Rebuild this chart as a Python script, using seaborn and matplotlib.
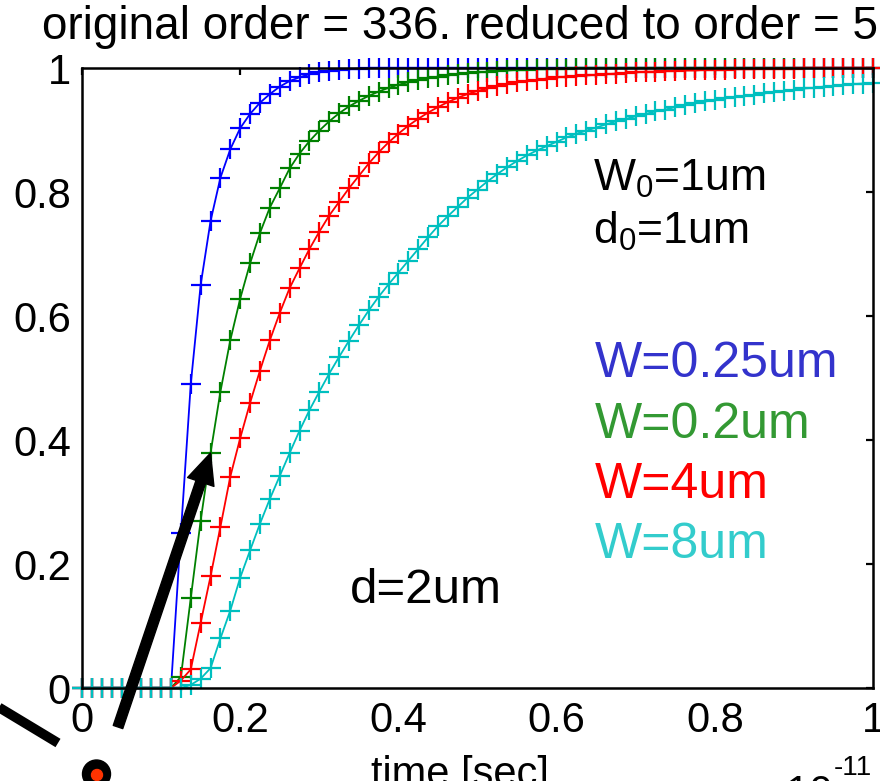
import numpy as np
import pandas as pd
import matplotlib
matplotlib.use("Agg")
import matplotlib.pyplot as plt
import seaborn as sns
from matplotlib.lines import Line2D
from matplotlib.patches import Circle

# time axis in units of 1e-11 s
t = [0, 0.0125, 0.025, 0.0375, 0.05, 0.0625, 0.075, 0.0875, 0.1, 0.1125,
     0.125, 0.1375, 0.15, 0.1625, 0.175, 0.1875, 0.2, 0.2125, 0.225, 0.2375,
     0.25, 0.2625, 0.275, 0.2875, 0.3, 0.3125, 0.325, 0.3375, 0.35, 0.3625,
     0.375, 0.3875, 0.4, 0.4125, 0.425, 0.4375, 0.45, 0.4625, 0.475, 0.4875,
     0.5, 0.5125, 0.525, 0.5375, 0.55, 0.5625, 0.575, 0.5875, 0.6, 0.6125,
     0.625, 0.6375, 0.65, 0.6625, 0.675, 0.6875, 0.7, 0.7125, 0.725, 0.7375,
     0.75, 0.7625, 0.775, 0.7875, 0.8, 0.8125, 0.825, 0.8375, 0.85, 0.8625,
     0.875, 0.8875, 0.9, 0.9125, 0.925, 0.9375, 0.95, 0.9625, 0.975, 0.9875,
     1.0]

zeros = [0.0] * 10

w025 = zeros + [0.25, 0.49, 0.65, 0.753, 0.823, 0.869, 0.903, 0.926, 0.944, 0.958,
                0.970, 0.979, 0.985, 0.990, 0.993, 0.995, 0.997, 0.998, 0.999] + [1.0] * 52

w02 = zeros + [0.018, 0.145, 0.27, 0.379, 0.478, 0.561, 0.628, 0.685, 0.734, 0.775,
               0.806, 0.838, 0.862, 0.882, 0.899, 0.914, 0.927, 0.938, 0.947, 0.955,
               0.962, 0.968, 0.973, 0.977, 0.981, 0.984, 0.986, 0.988, 0.990, 0.992,
               0.993, 0.994, 0.995, 0.996, 0.997, 0.997, 0.998, 0.998, 0.999, 0.999] + [1.0] * 31

w4 = zeros + [0.012, 0.03, 0.105, 0.18, 0.26, 0.341, 0.403, 0.46, 0.512, 0.561,
              0.605, 0.645, 0.677, 0.708, 0.736, 0.762, 0.784, 0.806, 0.826, 0.846,
              0.864, 0.88, 0.894, 0.907, 0.918, 0.928, 0.937, 0.945, 0.952, 0.958,
              0.963, 0.967, 0.971, 0.974, 0.977, 0.979, 0.981, 0.983, 0.985, 0.986,
              0.987, 0.988, 0.989, 0.990, 0.991, 0.992, 0.993, 0.994, 0.994, 0.995,
              0.995, 0.996, 0.996, 0.997, 0.997, 0.997, 0.998, 0.998, 0.998, 0.999,
              0.999, 0.999, 0.999] + [1.0] * 8

w8 = zeros + [0.0, 0.005, 0.015, 0.032, 0.08, 0.125, 0.178, 0.222, 0.265, 0.305,
              0.342, 0.379, 0.415, 0.448, 0.478, 0.507, 0.534, 0.56, 0.585, 0.609,
              0.631, 0.651, 0.67, 0.689, 0.708, 0.727, 0.745, 0.761, 0.776, 0.791,
              0.804, 0.817, 0.829, 0.84, 0.85, 0.859, 0.867, 0.874, 0.881, 0.888,
              0.894, 0.899, 0.904, 0.909, 0.914, 0.918, 0.922, 0.926, 0.93, 0.933,
              0.937, 0.94, 0.943, 0.946, 0.948, 0.951, 0.953, 0.955, 0.957, 0.959,
              0.961, 0.963, 0.965, 0.967, 0.968, 0.97, 0.971, 0.973, 0.974, 0.975,
              0.976]

series_labels = ["W=0.25um", "W=0.2um", "W=4um", "W=8um"]
line_colors = ["#0000ff", "#008000", "#ff0000", "#00bfbf"]
text_colors = ["#3333cc", "#339933", "#ff0000", "#33cccc"]

tick_vals = [0, 0.2, 0.4, 0.6, 0.8, 1]
tick_labels = ["0", "0.2", "0.4", "0.6", "0.8", "1"]

title = "original order = 336. reduced to order = 5"

sns.set_style("white")
plt.rcParams["font.family"] = ["Liberation Sans", "DejaVu Sans"]
plt.rcParams["mathtext.fontset"] = "custom"
plt.rcParams["mathtext.rm"] = "Liberation Sans"
plt.rcParams["mathtext.it"] = "Liberation Sans"
plt.rcParams["text.color"] = "black"
plt.rcParams["axes.labelcolor"] = "black"

fig = plt.figure(figsize=(8.8, 7.81), dpi=100)
ax = fig.add_axes([82 / 880, 1 - 688 / 781, (873 - 82) / 880, (688 - 68) / 781])

df = pd.DataFrame({"t": t, "W=0.25um": w025, "W=0.2um": w02, "W=4um": w4, "W=8um": w8})

for name, c in zip(series_labels, line_colors):
    sns.lineplot(x=df["t"], y=df[name], color=c, ax=ax, estimator=None, lw=1.3,
                 marker="+", ms=14, mew=1.6, mec=c, clip_on=False)

ax.set_xlim(0, 1)
ax.set_ylim(0, 1)
ax.set_xticks(tick_vals)
ax.set_xticklabels(tick_labels)
ax.set_yticks(tick_vals)
ax.set_yticklabels(tick_labels)
ax.set_xlabel("")
ax.set_ylabel("")
for s in ax.spines.values():
    s.set_visible(True)
    s.set_color("black")
    s.set_linewidth(1.8)
ax.tick_params(direction="in", length=5, width=1.6, top=True, right=True,
               labelsize=30, colors="black", labelcolor="black")
ax.tick_params(axis="x", pad=9)
ax.tick_params(axis="y", pad=8)

# texts around the axes
fig.text(42 / 880, 1 - 39 / 781, title, fontsize=33, va="baseline")
fig.text(460 / 880, 1 - 786 / 781, "time [sec]", fontsize=30, ha="center", va="baseline")
fig.text(833 / 880, 1 - 805 / 781, "\u00d710", fontsize=30, ha="right", va="baseline")
fig.text(834 / 880, 1 - 775 / 781, "-11", fontsize=20, ha="left", va="baseline")

# annotations inside the axes (positions in axes fraction)
tx = lambda px: (px - 82) / 791
ty = lambda py: (688 - py) / 620
ax.text(tx(593), ty(191), r"W$_0$=1um", fontsize=32, transform=ax.transAxes, va="baseline")
ax.text(tx(593), ty(244), r"d$_0$=1um", fontsize=32, transform=ax.transAxes, va="baseline")
for i, (name, c) in enumerate(zip(series_labels, text_colors)):
    ax.text(tx(595), ty(377 + 60.5 * i), name, fontsize=36, color=c,
            transform=ax.transAxes, va="baseline")
ax.text(tx(350), ty(603), "d=2um", fontsize=35.5, transform=ax.transAxes, va="baseline")

# overlay from the diagram: arrow to the W=0.2um point, bar and dot at lower left
ax.annotate("", xy=(t[13], w02[13]), xycoords="data",
            xytext=(118 / 880, 1 - 727 / 781), textcoords="figure fraction",
            arrowprops=dict(arrowstyle="simple,head_length=1.1,head_width=1.0,tail_width=0.36",
                            color="black", mutation_scale=20, shrinkA=0, shrinkB=0),
            annotation_clip=False)
fig.add_artist(Line2D([-5 / 880, 58 / 880], [1 - 705 / 781, 1 - 743 / 781],
                      color="black", lw=7, solid_capstyle="butt"))
fig.add_artist(Circle((96.5 / 100, 7 / 100), 14 / 100, transform=fig.dpi_scale_trans,
                      color="black"))
fig.add_artist(Circle((97 / 100, 6 / 100), 5.5 / 100, transform=fig.dpi_scale_trans,
                      color="#ff3300"))

fig.savefig("out.png", dpi=100)
